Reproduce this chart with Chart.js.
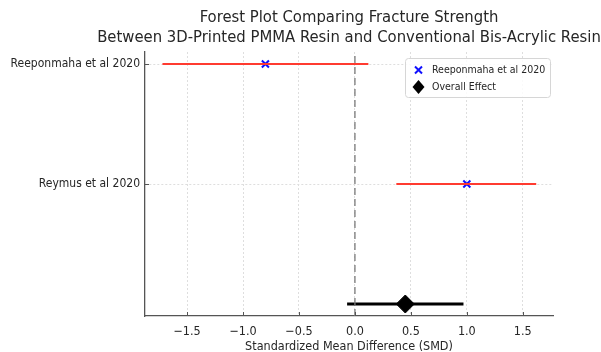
<!DOCTYPE html>
<html>
<head>
<meta charset="utf-8">
<script src="https://cdn.jsdelivr.net/npm/chart.js@4/dist/chart.umd.min.js"></script>
<style>
    html, body { margin: 0; padding: 0; background: #fff; }
    #wrap { width: 601px; height: 352px; }
</style>
</head>
<body>
<div id="wrap"><canvas id="forestChart"></canvas></div>
<script>
// study rows (top to bottom) and their effect sizes
const studies = ['Reeponmaha et al 2020', 'Reymus et al 2020'];
const studyRows = [2, 1];
const studyMeans = [-0.80, 1.00];
const studyLower = [-1.72, 0.37];
const studyUpper = [0.12, 1.62];

// pooled estimate
const overallRow = 0;
const overallMean = 0.45;
const overallLower = -0.07;
const overallUpper = 0.97;

const xTicks = [-1.5, -1.0, -0.5, 0.0, 0.5, 1.0, 1.5];
const legendLabels = ['Reeponmaha et al 2020', 'Overall Effect'];
const titleLines = ['Forest Plot Comparing Fracture Strength',
                    'Between 3D-Printed PMMA Resin and Conventional Bis-Acrylic Resin'];

const FONT = "'DejaVu Sans Condensed', 'DejaVu Sans', sans-serif";
Chart.defaults.font.family = FONT;
Chart.defaults.color = '#262626';

const Y_MIN = -0.1, Y_MAX = 2.1;

const datasets = [];

// vertical reference line at 0
datasets.push({
    type: 'line',
    data: [{ x: 0, y: Y_MIN }, { x: 0, y: Y_MAX }],
    borderColor: '#7a7a7a',
    borderWidth: 1.3,
    borderDash: [7, 4],
    pointRadius: 0
});

// confidence intervals for each study
studies.forEach((name, i) => {
    datasets.push({
        type: 'line',
        data: [{ x: studyLower[i], y: studyRows[i] }, { x: studyUpper[i], y: studyRows[i] }],
        borderColor: '#ff3b30',
        borderWidth: 2,
        pointRadius: 0
    });
});

// overall CI
datasets.push({
    type: 'line',
    data: [{ x: overallLower, y: overallRow }, { x: overallUpper, y: overallRow }],
    borderColor: '#000',
    borderWidth: 3,
    pointRadius: 0
});

// study points
datasets.push({
    type: 'scatter',
    data: studies.map((s, i) => ({ x: studyMeans[i], y: studyRows[i] })),
    pointStyle: 'crossRot',
    pointRadius: 5,
    borderColor: '#1010ff',
    borderWidth: 2
});

// overall point
datasets.push({
    type: 'scatter',
    data: [{ x: overallMean, y: overallRow }],
    pointStyle: 'rectRot',
    pointRadius: 9,
    backgroundColor: '#000',
    borderColor: '#000',
    borderWidth: 1
});

// title centred over the plot, legend inside plot, inward tick marks
const forestExtras = {
    id: 'forestExtras',
    afterDraw(chart) {
        const ctx = chart.ctx;
        const area = chart.chartArea;
        const xs = chart.scales.x, ys = chart.scales.y;

        ctx.save();
        // title
        ctx.font = '16.5px ' + FONT;
        ctx.fillStyle = '#262626';
        ctx.textAlign = 'center';
        ctx.textBaseline = 'middle';
        const cx = (area.left + area.right) / 2;
        titleLines.forEach((t, i) => ctx.fillText(t, cx, 18 + i * 20));

        ctx.strokeStyle = '#555';
        ctx.lineWidth = 1;
        xs.ticks.forEach(t => {
            const px = Math.round(xs.getPixelForValue(t.value)) + 0.5;
            ctx.beginPath();
            ctx.moveTo(px, area.bottom);
            ctx.lineTo(px, area.bottom - 4);
            ctx.stroke();
        });
        ys.ticks.forEach(t => {
            const py = Math.round(ys.getPixelForValue(t.value)) + 0.5;
            ctx.beginPath();
            ctx.moveTo(area.left, py);
            ctx.lineTo(area.left + 4, py);
            ctx.stroke();
        });

        // legend box
        const bx = area.right - 148, by = area.top + 6, bw = 145, bh = 39;
        ctx.fillStyle = 'rgba(255,255,255,0.85)';
        ctx.strokeStyle = '#d6d6d6';
        ctx.lineWidth = 1;
        ctx.beginPath();
        ctx.roundRect(bx + 0.5, by + 0.5, bw, bh, 3);
        ctx.fill();
        ctx.stroke();

        ctx.font = '10.5px ' + FONT;
        ctx.textAlign = 'left';
        const rows = [by + 12, by + 29];
        ctx.strokeStyle = '#1010ff';
        ctx.lineWidth = 2;
        ctx.beginPath();
        ctx.moveTo(bx + 10, rows[0] - 3.5); ctx.lineTo(bx + 17, rows[0] + 3.5);
        ctx.moveTo(bx + 17, rows[0] - 3.5); ctx.lineTo(bx + 10, rows[0] + 3.5);
        ctx.stroke();
        ctx.fillStyle = '#000';
        ctx.beginPath();
        ctx.moveTo(bx + 13.5, rows[1] - 7); ctx.lineTo(bx + 19.5, rows[1]);
        ctx.lineTo(bx + 13.5, rows[1] + 7); ctx.lineTo(bx + 7.5, rows[1]);
        ctx.closePath();
        ctx.fill();
        ctx.fillStyle = '#262626';
        legendLabels.forEach((lbl, i) => ctx.fillText(lbl, bx + 27, rows[i]));
        ctx.restore();
    }
};

new Chart(document.getElementById('forestChart'), {
    type: 'scatter',
    data: { datasets },
    plugins: [forestExtras],
    options: {
        responsive: true,
        maintainAspectRatio: false,
        animation: false,
        layout: { padding: { left: 0, right: 48, top: 52, bottom: 0 } },
        plugins: {
            legend: { display: false },
            tooltip: { enabled: false },
            title: { display: false }
        },
        scales: {
            x: {
                type: 'linear',
                min: -1.876,
                max: 1.77,
                afterBuildTicks: (scale) => { scale.ticks = xTicks.map(v => ({ value: v })); },
                afterFit: (scale) => { scale.height = 36; },
                grid: { color: '#dedede', lineWidth: 1, drawTicks: false },
                border: { display: true, color: '#555', width: 1.3, dash: [2, 2] },
                ticks: {
                    padding: 8,
                    font: { size: 12.5 },
                    color: '#262626',
                    callback: (v) => (v < 0 ? '\u2212' : '') + Math.abs(v).toFixed(1)
                },
                title: {
                    display: true,
                    text: 'Standardized Mean Difference (SMD)',
                    font: { size: 12.5 },
                    color: '#262626',
                    padding: { top: 0, bottom: -2.5 }
                }
            },
            y: {
                type: 'linear',
                min: Y_MIN,
                max: Y_MAX,
                afterBuildTicks: (scale) => { scale.ticks = studyRows.map(v => ({ value: v })); },
                afterFit: (scale) => { scale.width = 145; },
                grid: { color: '#dedede', lineWidth: 1, drawTicks: false },
                border: { display: true, color: '#555', width: 1.3, dash: [2, 2] },
                ticks: {
                    padding: 5,
                    font: { size: 12 },
                    color: '#262626',
                    callback: (v) => studies[studyRows.indexOf(v)]
                }
            }
        }
    }
});
</script>
</body>
</html>
